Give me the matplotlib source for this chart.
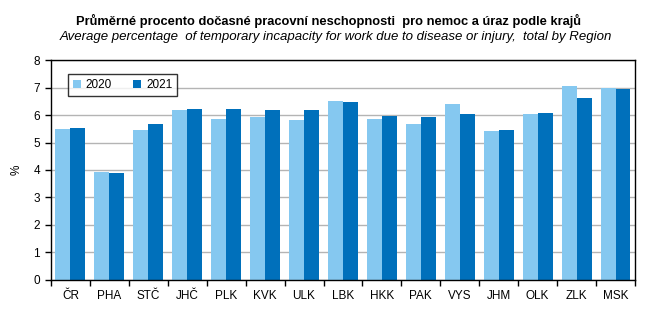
import matplotlib
matplotlib.use("Agg")
import matplotlib.pyplot as plt
import numpy as np

plt.rcParams['font.family'] = ['Liberation Sans', 'DejaVu Sans']

regions = ["ČR", "PHA", "STČ", "JHČ", "PLK", "KVK", "ULK", "LBK", "HKK",
           "PAK", "VYS", "JHM", "OLK", "ZLK", "MSK"]
values_2020 = [5.49, 3.94, 5.45, 6.18, 5.85, 5.93, 5.82, 6.50, 5.85,
               5.67, 6.40, 5.42, 6.03, 7.04, 7.00]
values_2021 = [5.52, 3.90, 5.67, 6.22, 6.22, 6.18, 6.18, 6.47, 5.96,
               5.93, 6.03, 5.45, 6.07, 6.63, 6.96]
years = ["2020", "2021"]
colors = ["#85C8F0", "#0070BB"]

fig = plt.figure(figsize=(6.58, 3.32), dpi=100)
ax = fig.add_axes([0.0775, 0.157, 0.8875, 0.662])

x = np.arange(len(regions))
w = 0.385
ax.bar(x - w / 2, values_2020, w, color=colors[0], label=years[0], zorder=2)
ax.bar(x + w / 2, values_2021, w, color=colors[1], label=years[1], zorder=2)

ax.set_xlim(-0.5, len(regions) - 0.5)
ax.set_ylim(0, 8)
ax.set_yticks(range(0, 9))
ax.yaxis.grid(True, color="#b4b4b4", linewidth=1.0, zorder=0)
ax.set_axisbelow(True)

# category labels centred, tick marks on the group boundaries
ax.set_xticks(x)
ax.set_xticklabels(regions, fontsize=8.5)
ax.tick_params(axis='x', which='major', length=0, pad=7)
ax.set_xticks(np.arange(-0.5, len(regions)), minor=True)
ax.tick_params(axis='x', which='minor', length=4, width=1, direction='out')
ax.tick_params(axis='y', length=4, width=1, direction='out', labelsize=8.5, pad=4)

for s in ax.spines.values():
    s.set_color("black")
    s.set_linewidth(1.0)

ax.set_ylabel("%", fontsize=8.5, labelpad=8)

leg = ax.legend(loc='upper left', bbox_to_anchor=(0.029, 0.935), ncol=2,
                frameon=True, fancybox=False, edgecolor='black', fontsize=8.5,
                handlelength=0.7, handleheight=0.7, handletextpad=0.4,
                columnspacing=1.8, borderpad=0.4, borderaxespad=0)
leg.get_frame().set_linewidth(1.0)

fig.text(0.499, 0.937, "Průměrné procento dočasné pracovní neschopnosti  pro nemoc a úraz podle krajů",
         ha='center', va='center', fontsize=9.3, fontweight='bold')
fig.text(0.51, 0.888, "Average percentage  of temporary incapacity for work due to disease or injury,  total by Region",
         ha='center', va='center', fontsize=9.5, style='italic')

fig.savefig("out.png", dpi=100)
